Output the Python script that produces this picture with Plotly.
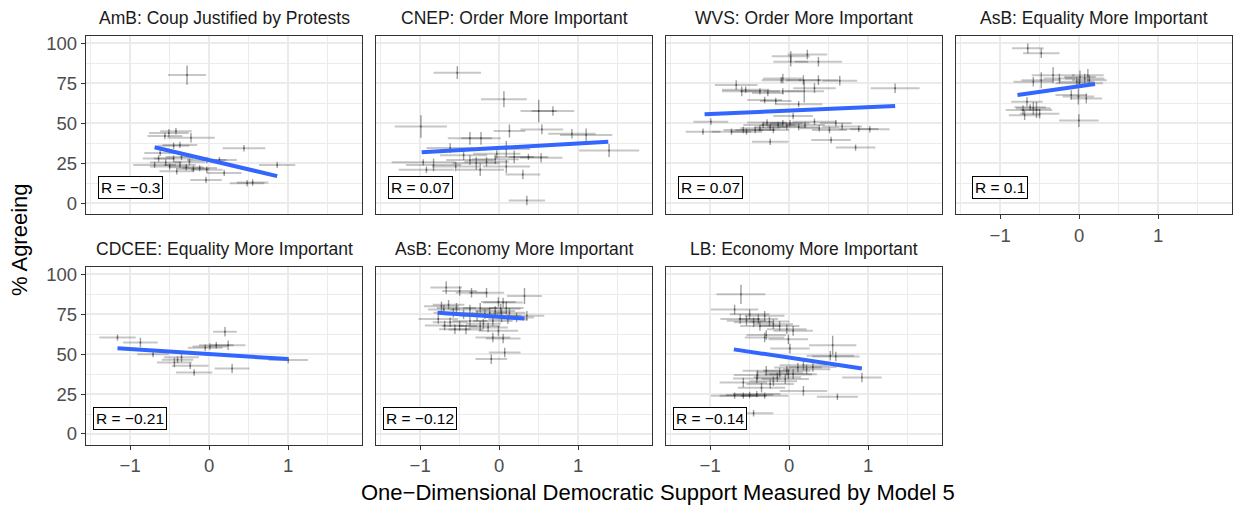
import plotly.graph_objects as go

# ---------------- data ----------------
panel_titles = ["AmB: Coup Justified by Protests", "CNEP: Order More Important",
                "WVS: Order More Important", "AsB: Equality More Important",
                "CDCEE: Equality More Important", "AsB: Economy More Important",
                "LB: Economy More Important"]
r_labels = ["R = \u22120.3", "R = 0.07", "R = 0.07", "R = 0.1",
            "R = \u22120.21", "R = \u22120.12", "R = \u22120.14"]

amb = [(-0.28, 80.2, 0.24, 6), (-0.51, 44.0, 0.25, 2.5), (-0.42, 45.0, 0.2, 2), (-0.56, 42.0, 0.22, 2),
       (-0.23, 41.0, 0.3, 3), (-0.37, 36.5, 0.22, 2), (-0.45, 36.0, 0.2, 2), (0.44, 34.4, 0.27, 2),
       (-0.62, 31.5, 0.2, 2), (-0.64, 28.0, 0.2, 2), (-0.45, 28.0, 0.25, 2), (-0.35, 29.0, 0.2, 2),
       (-0.03, 27.0, 0.25, 2), (0.13, 27.0, 0.22, 2), (-0.69, 24.0, 0.27, 2), (-0.50, 23.0, 0.25, 2),
       (-0.37, 24.0, 0.2, 2), (-0.29, 22.5, 0.22, 2), (-0.20, 21.5, 0.2, 2), (-0.12, 22.0, 0.22, 2),
       (0.86, 24.0, 0.23, 2), (0.19, 19.0, 0.22, 2), (-0.03, 21.0, 0.2, 2), (-0.41, 20.0, 0.22, 2),
       (-0.04, 14.6, 0.2, 2), (0.48, 12.5, 0.22, 2), (0.55, 13.0, 0.2, 2), (-0.55, 25.5, 0.2, 2),
       (-0.25, 26.0, 0.2, 2)]
cnep = [(-0.53, 81.7, 0.3, 4), (0.06, 65.0, 0.29, 5), (0.50, 57.7, 0.23, 7), (0.68, 57.7, 0.27, 3),
        (-0.99, 48.0, 0.33, 7), (0.13, 45.2, 0.2, 4), (0.54, 46.2, 0.27, 3), (1.10, 42.7, 0.33, 4),
        (0.92, 43.5, 0.3, 3), (-0.37, 40.6, 0.28, 4), (-0.23, 40.6, 0.25, 4), (1.39, 33.0, 0.38, 4),
        (-0.62, 34.5, 0.3, 3), (0.09, 34.0, 0.3, 5), (0.19, 29.0, 0.25, 4), (0.37, 29.0, 0.25, 2),
        (0.53, 28.5, 0.27, 3), (-0.03, 31.0, 0.3, 3), (-0.16, 26.0, 0.28, 3), (-0.29, 25.0, 0.3, 4),
        (-0.37, 27.0, 0.3, 3), (-0.55, 23.0, 0.3, 3), (-0.83, 24.0, 0.35, 4), (-0.96, 25.6, 0.4, 2),
        (-0.92, 21.0, 0.35, 2), (-0.24, 21.0, 0.3, 4), (0.09, 23.0, 0.3, 4), (0.30, 18.0, 0.22, 3),
        (0.35, 1.7, 0.23, 3), (-0.05, 27.5, 0.3, 3), (-0.45, 30.0, 0.3, 3)]
wvs = [(0.02, 92.0, 0.24, 3), (0.23, 93.0, 0.25, 3), (0.37, 88.5, 0.3, 3), (0.02, 88.5, 0.22, 3),
       (-0.08, 78.0, 0.25, 3), (-0.10, 77.0, 0.25, 2), (0.18, 77.0, 0.22, 3), (0.37, 77.0, 0.25, 3),
       (0.64, 76.7, 0.22, 3), (1.34, 71.9, 0.31, 3), (-0.67, 74.0, 0.27, 3), (-0.60, 70.0, 0.25, 3),
       (-0.55, 71.0, 0.3, 2), (-0.37, 70.0, 0.25, 2), (-0.27, 69.0, 0.2, 2), (-0.08, 70.0, 0.25, 2),
       (0.19, 70.0, 0.25, 7), (0.32, 72.0, 0.27, 3), (-0.31, 64.6, 0.22, 2), (-0.17, 64.0, 0.2, 2),
       (0.12, 62.0, 0.3, 2), (-0.99, 51.0, 0.22, 2), (-1.09, 44.8, 0.22, 2), (-0.73, 44.8, 0.25, 2),
       (-0.58, 45.8, 0.25, 2), (-0.54, 44.8, 0.2, 2), (-0.43, 45.8, 0.25, 2), (-0.37, 46.9, 0.25, 2),
       (-0.33, 49.0, 0.25, 2), (-0.24, 47.5, 0.2, 2), (-0.20, 45.8, 0.2, 2), (-0.14, 49.0, 0.22, 2),
       (-0.08, 50.0, 0.25, 2), (-0.03, 48.0, 0.25, 2), (0.01, 50.0, 0.25, 2), (0.05, 54.6, 0.25, 2),
       (0.20, 49.0, 0.25, 2), (0.32, 51.0, 0.28, 2), (0.38, 46.9, 0.25, 2), (0.51, 45.8, 0.22, 2),
       (0.59, 50.0, 0.2, 2), (0.67, 48.0, 0.25, 2), (0.88, 46.5, 0.25, 2), (1.02, 46.3, 0.25, 2),
       (-0.24, 38.5, 0.23, 2), (0.53, 39.6, 0.25, 2), (0.84, 34.8, 0.25, 2), (-0.28, 50.5, 0.25, 2),
       (0.12, 47.5, 0.25, 2)]
asb_eq = [(-0.65, 96.9, 0.2, 3), (-0.48, 93.8, 0.23, 3), (-0.33, 80.0, 0.27, 5), (0.01, 79.0, 0.2, 4),
          (0.11, 80.0, 0.2, 4), (0.13, 77.0, 0.22, 3), (0.07, 78.0, 0.25, 3), (-0.03, 76.0, 0.22, 3),
          (-0.58, 76.0, 0.25, 3), (-0.48, 77.0, 0.25, 5), (-0.25, 78.0, 0.2, 3), (-0.10, 67.7, 0.2, 3),
          (-0.01, 66.7, 0.2, 5), (0.09, 65.6, 0.2, 3), (-0.66, 63.5, 0.2, 3), (-0.58, 59.4, 0.22, 4),
          (-0.54, 58.3, 0.2, 5), (-0.71, 58.3, 0.22, 3), (-0.50, 56.0, 0.25, 3), (-0.69, 55.0, 0.2, 3),
          (-0.004, 51.7, 0.25, 4), (0.0, 75.0, 0.3, 3), (-0.62, 60.0, 0.2, 2)]
cdcee = [(-1.16, 60.4, 0.23, 2), (-0.87, 57.3, 0.22, 3), (-0.71, 50.0, 0.2, 2), (-0.35, 48.0, 0.22, 3),
         (-0.44, 44.8, 0.22, 3), (-0.24, 42.7, 0.23, 2), (-0.19, 38.5, 0.23, 2), (0.20, 64.0, 0.15, 3),
         (0.01, 54.8, 0.22, 2), (0.09, 55.6, 0.22, 2), (0.24, 55.6, 0.22, 3), (0.29, 41.0, 0.22, 3),
         (1.00, 46.3, 0.25, 2), (-0.05, 54.0, 0.22, 2), (-0.40, 46.5, 0.2, 2)]
asb_ec = [(-0.67, 91.7, 0.2, 4), (-0.50, 89.6, 0.22, 3), (-0.35, 88.5, 0.2, 3), (-0.16, 88.5, 0.22, 3),
          (0.32, 86.5, 0.22, 5), (-0.73, 80.0, 0.22, 3), (-0.64, 81.0, 0.2, 3), (-0.54, 79.0, 0.25, 3),
          (-0.37, 78.0, 0.25, 3), (-0.24, 79.0, 0.22, 3), (-0.01, 82.7, 0.22, 3), (0.05, 82.3, 0.25, 3),
          (0.09, 79.0, 0.22, 4), (-0.05, 77.0, 0.25, 3), (-0.77, 72.0, 0.25, 3), (-0.62, 70.0, 0.22, 3),
          (-0.56, 65.6, 0.2, 3), (-0.50, 67.7, 0.22, 3), (-0.37, 70.8, 0.22, 3), (-0.24, 67.7, 0.25, 3),
          (-0.14, 66.7, 0.25, 3), (-0.08, 70.8, 0.25, 3), (0.03, 74.0, 0.25, 4), (0.11, 71.9, 0.25, 3),
          (0.22, 73.0, 0.22, 3), (0.35, 74.0, 0.22, 3), (-0.01, 64.6, 0.25, 3), (-0.08, 60.4, 0.22, 3),
          (0.05, 59.8, 0.22, 3), (0.07, 51.0, 0.2, 3), (-0.10, 46.9, 0.2, 3), (-0.70, 78.0, 0.2, 3),
          (-0.58, 76.0, 0.25, 3), (-0.45, 75.0, 0.25, 3), (-0.28, 74.0, 0.22, 3), (-0.18, 75.0, 0.22, 3),
          (-0.12, 76.0, 0.22, 3), (0.13, 76.0, 0.2, 3), (-0.69, 68.0, 0.25, 3), (-0.42, 65.5, 0.22, 3),
          (-0.20, 69.0, 0.22, 3), (0.02, 78.5, 0.25, 3)]
lb = [(-0.61, 87.5, 0.31, 6), (-0.69, 78.0, 0.3, 3), (-0.62, 72.0, 0.25, 3), (-0.54, 71.0, 0.25, 3),
      (-0.45, 70.0, 0.25, 3), (-0.39, 72.0, 0.25, 3), (-0.31, 74.0, 0.25, 3), (-0.37, 67.7, 0.25, 3),
      (-0.20, 68.8, 0.25, 3), (-0.12, 67.7, 0.25, 3), (-0.03, 65.6, 0.25, 3), (0.05, 64.6, 0.25, 3),
      (-0.31, 60.4, 0.25, 3), (-0.29, 62.0, 0.25, 3), (-0.01, 59.4, 0.25, 3), (0.01, 53.5, 0.25, 3),
      (0.55, 55.6, 0.3, 6), (0.52, 49.0, 0.3, 3), (0.59, 48.5, 0.3, 3), (0.18, 43.0, 0.3, 3),
      (0.11, 41.7, 0.3, 3), (-0.03, 39.6, 0.3, 3), (-0.12, 38.5, 0.3, 3), (-0.29, 39.6, 0.3, 3),
      (-0.41, 34.8, 0.3, 3), (-0.58, 32.3, 0.3, 3), (-0.24, 31.3, 0.3, 3), (-0.05, 34.4, 0.3, 3),
      (-0.01, 37.5, 0.3, 3), (0.05, 37.5, 0.3, 3), (0.22, 40.6, 0.3, 3), (0.92, 35.4, 0.25, 3),
      (-0.69, 24.0, 0.3, 2), (-0.58, 24.0, 0.3, 2), (-0.50, 24.4, 0.3, 2), (-0.41, 25.0, 0.3, 2),
      (-0.31, 24.0, 0.3, 2), (0.18, 27.0, 0.3, 3), (0.61, 23.3, 0.26, 2), (-0.45, 13.0, 0.25, 2),
      (-0.50, 75.0, 0.25, 3), (-0.25, 70.5, 0.25, 3), (-0.40, 37.0, 0.3, 3), (-0.15, 35.5, 0.3, 3),
      (0.30, 42.0, 0.3, 3), (-0.35, 29.0, 0.3, 3), (-0.20, 33.0, 0.3, 3)]
panel_data = [amb, cnep, wvs, asb_eq, cdcee, asb_ec, lb]

# fitted regression lines (x start/end, y start/end)
fit_x0 = [-0.69, -0.98, -1.07, -0.78, -1.16, -0.78, -0.70]
fit_x1 = [0.86, 1.38, 1.34, 0.20, 1.00, 0.32, 0.92]
fit_y0 = [35.0, 31.9, 55.6, 67.7, 53.75, 76.0, 53.0]
fit_y1 = [17.0, 38.5, 60.8, 74.6, 46.9, 72.3, 41.0]

x_ticks = [-1, 0, 1]
y_ticks = [0, 25, 50, 75, 100]

# ---------------- layout geometry ----------------
W, H = 1236, 505
ML, MR, MT, MB = 86, 4, 35, 60
PW, PH = W - ML - MR, H - MT - MB
col_left = [86, 376, 666, 956]
pan_w = 276
rows = [(35.7, 214.3), (266.7, 445.0)]

def px2x(p):
    return (p - ML) / PW

def py2y(p):
    return (H - MB - p) / PH

FONT = "Liberation Sans, Arial, sans-serif"
GRID = "#ebebeb"

fig = go.Figure()
annotations = []
positions = [(0, 0), (0, 1), (0, 2), (0, 3), (1, 0), (1, 1), (1, 2)]

for i, (data, (r, c)) in enumerate(zip(panel_data, positions)):
    n = i + 1
    xs = [d[0] for d in data]
    ys = [d[1] for d in data]
    exs = [d[2] for d in data]
    eys = [d[3] for d in data]
    xa = "x" if n == 1 else f"x{n}"
    ya = "y" if n == 1 else f"y{n}"
    fig.add_trace(go.Scatter(
        x=xs, y=ys, mode="markers", xaxis=xa, yaxis=ya, showlegend=False,
        marker=dict(size=2, color="rgba(0,0,0,0.3)"),
        error_x=dict(type="data", array=exs, color="rgba(0,0,0,0.22)", thickness=2, width=0),
        error_y=dict(type="data", array=eys, color="rgba(0,0,0,0.38)", thickness=1.4, width=0),
    ))
    fig.add_trace(go.Scatter(
        x=[fit_x0[i], fit_x1[i]], y=[fit_y0[i], fit_y1[i]], mode="lines",
        xaxis=xa, yaxis=ya, showlegend=False,
        line=dict(color="#3366FF", width=4),
    ))
    top, bot = rows[r]
    left = col_left[c]
    show_x = (r == 1) or (c == 3)
    show_y = (c == 0)
    xkey = "xaxis" if n == 1 else f"xaxis{n}"
    ykey = "yaxis" if n == 1 else f"yaxis{n}"
    fig.update_layout(**{
        xkey: dict(domain=[px2x(left), px2x(left + pan_w)], anchor=ya,
                   range=[-1.558, 1.933], tickvals=x_ticks, ticktext=["\u22121", "0", "1"],
                   showticklabels=show_x, ticks="outside" if show_x else "",
                   ticklen=4, tickwidth=1.2, tickcolor="#333333",
                   tickfont=dict(family=FONT, size=18.5, color="#4d4d4d"),
                   showgrid=True, gridcolor=GRID, gridwidth=1.5, zeroline=False,
                   showline=True, mirror=True, linecolor="#333333", linewidth=1.3,
                   minor=dict(tickmode="array", tickvals=[-1.5, -0.5, 0.5, 1.5],
                              showgrid=True, gridcolor=GRID, gridwidth=0.8, ticks=""),
                   fixedrange=True),
        ykey: dict(domain=[py2y(bot), py2y(top)], anchor=xa,
                   range=[-6.9, 104.8], tickvals=y_ticks,
                   showticklabels=show_y, ticks="outside" if show_y else "",
                   ticklen=4, tickwidth=1.2, tickcolor="#333333",
                   tickfont=dict(family=FONT, size=18.5, color="#4d4d4d"),
                   showgrid=True, gridcolor=GRID, gridwidth=1.5, zeroline=False,
                   showline=True, mirror=True, linecolor="#333333", linewidth=1.3,
                   minor=dict(tickmode="array", tickvals=[12.5, 37.5, 62.5, 87.5],
                              showgrid=True, gridcolor=GRID, gridwidth=0.8, ticks=""),
                   fixedrange=True),
    })
    # strip title
    annotations.append(dict(text=panel_titles[i], xref="paper", yref="paper",
                            x=px2x(left + pan_w / 2), y=py2y(top - 18),
                            xanchor="center", yanchor="middle", showarrow=False,
                            font=dict(family=FONT, size=17.5, color="#1a1a1a")))
    # R label
    annotations.append(dict(text=r_labels[i], xref=xa, yref=ya, x=-1, y=10,
                            xanchor="center", yanchor="middle", showarrow=False,
                            bgcolor="white", bordercolor="black", borderwidth=1, borderpad=2,
                            font=dict(family=FONT, size=15.5, color="black")))

annotations.append(dict(text="% Agreeing", xref="paper", yref="paper",
                        x=px2x(19), y=py2y(240), textangle=-90,
                        xanchor="center", yanchor="middle", showarrow=False,
                        font=dict(family=FONT, size=22, color="black")))
annotations.append(dict(text="One\u2212Dimensional Democratic Support Measured by Model 5",
                        xref="paper", yref="paper", x=px2x(658), y=py2y(492),
                        xanchor="center", yanchor="middle", showarrow=False,
                        font=dict(family=FONT, size=22, color="black")))

fig.update_layout(width=W, height=H, margin=dict(l=ML, r=MR, t=MT, b=MB),
                  paper_bgcolor="white", plot_bgcolor="white",
                  annotations=annotations, showlegend=False)

fig.write_html("out.html", config={"displayModeBar": False},
               post_script="document.body.style.margin='0';document.body.style.overflow='hidden';")
